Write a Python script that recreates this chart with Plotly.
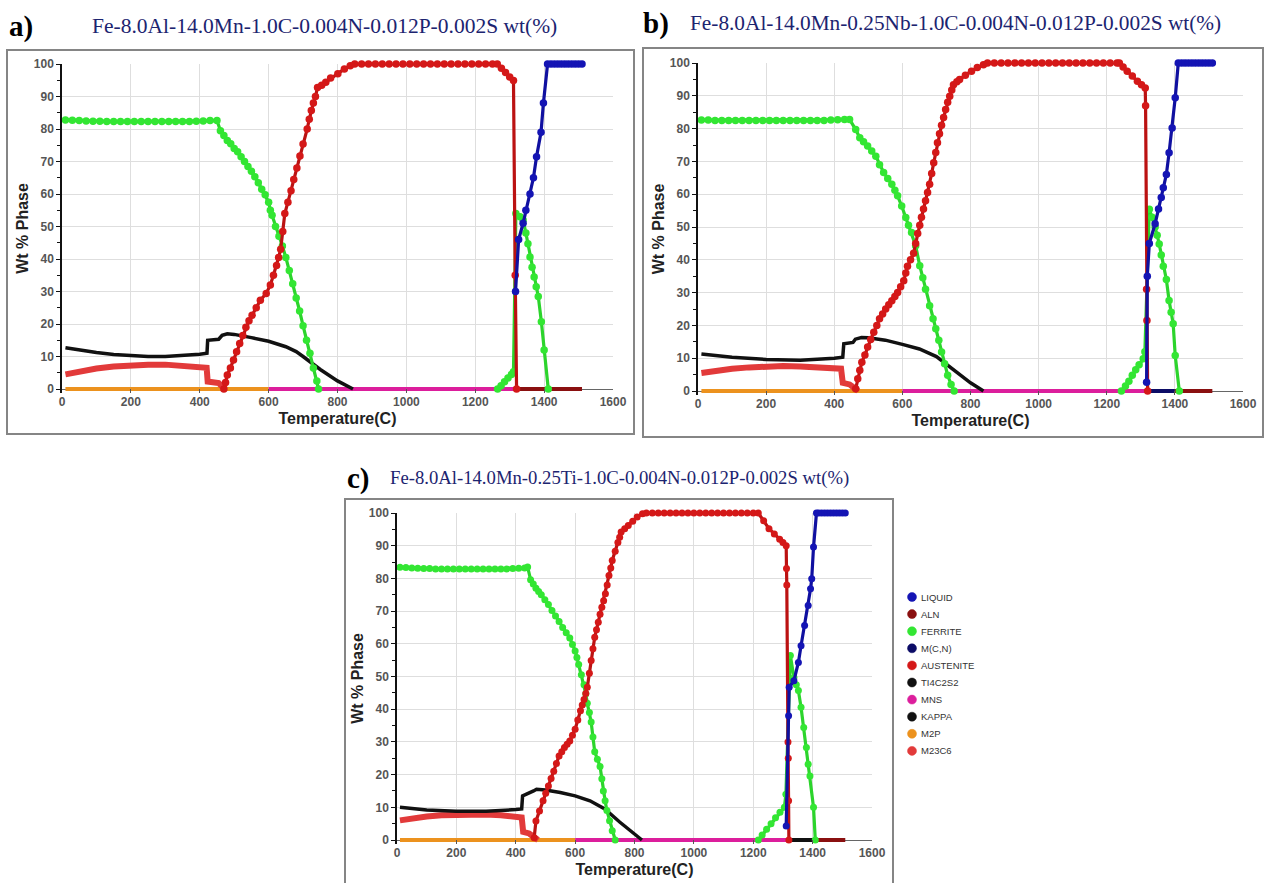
import plotly.graph_objects as go

W_PX, H_PX = 1267, 883

# ---------------- text ----------------
PANEL_LABELS = ["a)", "b)", "c)"]
PANEL_TITLES = [
    "Fe-8.0Al-14.0Mn-1.0C-0.004N-0.012P-0.002S wt(%)",
    "Fe-8.0Al-14.0Mn-0.25Nb-1.0C-0.004N-0.012P-0.002S wt(%)",
    "Fe-8.0Al-14.0Mn-0.25Ti-1.0C-0.004N-0.012P-0.002S wt(%)",
]
X_TITLE = "Temperature(C)"
Y_TITLE = "Wt % Phase"
X_TICKS = [0, 200, 400, 600, 800, 1000, 1200, 1400, 1600]
Y_TICKS = [0, 10, 20, 30, 40, 50, 60, 70, 80, 90, 100]

LEGEND_NAMES = ["LIQUID", "ALN", "FERRITE", "M(C,N)", "AUSTENITE",
                "TI4C2S2", "MNS", "KAPPA", "M2P", "M23C6"]
LEGEND_COLORS = ["#1414b4", "#8a1010", "#33e633", "#0c0c66", "#d41818",
                 "#111111", "#dc1e9c", "#111111", "#ec921e", "#e23a3a"]

# ---------------- panel a ----------------
A_LIQ_T = [1317, 1326, 1339, 1347, 1359, 1369, 1378, 1391, 1398, 1410, 1420, 1430, 1440, 1450, 1460, 1470, 1480, 1490, 1500, 1510]
A_LIQ_W = [30, 46, 51, 55, 60, 65, 71.5, 79, 88, 100, 100, 100, 100, 100, 100, 100, 100, 100, 100, 100]

A_FER1_T = [10, 30, 50, 70, 90, 110, 130, 150, 170, 190, 210, 230, 250, 270, 290, 310, 330, 350, 370, 390, 410, 430, 450,
            460, 470, 480, 490, 500, 510, 520, 530, 540, 550, 560, 570, 580, 590, 600, 605, 610, 620, 630, 640, 650,
            660, 670, 680, 690, 700, 710, 720, 730, 740, 745]
A_FER1_W = [82.8, 82.7, 82.6, 82.5, 82.4, 82.4, 82.3, 82.3, 82.3, 82.3, 82.3, 82.3, 82.3, 82.3, 82.3, 82.3, 82.3, 82.3, 82.3, 82.4, 82.5, 82.6, 82.6,
            79.5, 78, 76.5, 75.5, 74, 73, 71.5, 70, 68.5, 67, 65.3, 63.5, 61.5, 59.8, 57.5, 55, 53.5, 50, 47, 44, 40.5,
            36.5, 32.4, 28, 24, 19.5, 15, 11, 6.5, 2.5, 0]
A_FER2_T = [1265, 1275, 1285, 1295, 1305, 1311, 1318, 1330, 1339, 1347, 1353, 1359, 1365, 1371, 1377, 1383, 1392, 1400, 1412]
A_FER2_W = [0, 1, 2.2, 3.4, 4.5, 5.3, 54, 53, 52, 48, 44.7, 40.6, 37.5, 34.5, 31.5, 28.5, 20.7, 12, 0]

A_AUS_T = [470, 475, 480, 489, 498, 507, 516, 525, 534, 543, 552, 564, 576, 593, 605, 614, 623, 629, 635, 641, 647, 656,
           665, 673, 682, 691, 700, 712, 718, 724, 730, 736, 742, 754, 766, 780, 801, 820, 837, 850,
           870, 890, 910, 930, 950, 970, 990, 1010, 1030, 1050, 1070, 1090, 1110, 1130, 1150, 1170, 1190, 1210, 1230, 1250,
           1264, 1276, 1288, 1300, 1311, 1316, 1320]
A_AUS_W = [0, 2, 4.3, 6.5, 8.9, 11.5, 14, 16.5, 19, 21, 22.7, 25, 27.3, 29.4, 32, 35, 38, 40.5, 43, 48.5, 54, 57.5,
           61, 64.5, 68, 71.7, 75.4, 80, 83, 85.7, 88, 90, 92.8, 93.5, 94.4, 95.7, 97, 98.5, 99.5, 100,
           100, 100, 100, 100, 100, 100, 100, 100, 100, 100, 100, 100, 100, 100, 100, 100, 100, 100, 100, 100,
           100, 98.7, 97.4, 96, 94.9, 35, 0]

A_KAP_T = [10, 50, 100, 150, 200, 250, 300, 350, 400, 421, 423, 455, 465, 480, 500, 550, 600, 650, 680, 700, 750, 800, 845]
A_KAP_W = [12.7, 12, 11.2, 10.6, 10.2, 10, 10, 10.3, 10.7, 11, 15, 15.3, 16.5, 17, 16.8, 15.8, 14.7, 13, 11.5, 10, 6, 2.5, 0]

A_M23_T = [10, 50, 100, 150, 200, 250, 300, 350, 400, 420, 423, 440, 455, 465, 475]
A_M23_W = [4.5, 5.5, 6.3, 6.9, 7.3, 7.5, 7.5, 7.2, 6.8, 6.5, 2.3, 2, 1.8, 0.8, 0]

A_M2P_T, A_M2P_W = [10, 600], [0, 0]
A_MNS_T, A_MNS_W = [600, 1318], [0, 0]
A_ALN_T, A_ALN_W = [1318, 1510], [0, 0]

# ---------------- panel b ----------------
B_LIQ_T = [1317, 1319, 1325, 1342, 1352, 1360, 1366, 1375, 1383, 1392, 1401, 1410, 1420, 1430, 1440, 1450, 1460, 1470, 1480, 1490, 1500, 1510]
B_LIQ_W = [2.7, 35, 45, 51, 55.5, 59, 62, 66, 72.6, 80.2, 89.4, 100, 100, 100, 100, 100, 100, 100, 100, 100, 100, 100]

B_FER1_T = [10, 30, 50, 70, 90, 110, 130, 150, 170, 190, 210, 230, 250, 270, 290, 310, 330, 350, 370, 390, 410, 430, 445,
            463, 475, 486, 498, 510, 522, 533, 545, 557, 569, 578, 586, 598, 610, 618, 627, 639, 651, 660, 668, 680,
            690, 698, 707, 715, 724, 733, 743, 752]
B_FER1_W = [82.6, 82.6, 82.5, 82.5, 82.5, 82.5, 82.5, 82.5, 82.5, 82.5, 82.5, 82.5, 82.5, 82.5, 82.5, 82.5, 82.5, 82.5, 82.5, 82.6, 82.7, 82.8, 82.8,
            79.7, 77.2, 76, 74.7, 73.2, 71.6, 69, 66.6, 64.8, 63, 61.2, 59.5, 56.4, 52.9, 50.5, 48.3, 44.3, 38.2, 34.5, 31, 26,
            22, 19, 15.5, 11.9, 8.3, 4.8, 2, 0]
B_FER2_T = [1243, 1255, 1265, 1275, 1285, 1295, 1307, 1312, 1325, 1333, 1342, 1348, 1354, 1360, 1366, 1375, 1383, 1389, 1395, 1401, 1413]
B_FER2_W = [0, 1.5, 3, 4.8, 6.5, 8, 9.8, 12, 55.4, 53, 50, 47.5, 44.8, 41.5, 38, 34, 27.6, 24, 20.5, 10.8, 0]

B_AUS_T = [463, 469, 475, 481, 490, 498, 507, 516, 525, 533, 542, 551, 560, 569, 578, 586, 595, 604, 610, 615, 624, 633,
           639, 645, 651, 656, 662, 668, 674, 680, 686, 692, 698, 703, 709, 715, 721, 727, 733, 739, 745, 750, 760,
           768, 785, 803, 820, 838, 850,
           870, 890, 910, 930, 950, 970, 990, 1010, 1030, 1050, 1070, 1090, 1110, 1130, 1150, 1170, 1190, 1210, 1230,
           1237, 1248, 1260, 1275, 1290, 1302, 1313, 1314, 1317, 1318, 1320]
B_AUS_W = [0.7, 3.7, 6.3, 8.8, 11, 13.4, 15.7, 17.9, 20, 22, 23.5, 25, 26.3, 27.5, 28.8, 30, 31.8, 33.6, 36, 38, 40, 42,
           45, 48, 50.5, 53, 55.5, 58, 60.5, 63, 66.3, 69.6, 72.7, 75.7, 78.4, 81, 83.4, 85.8, 88, 89.9, 91.8, 93.4, 94.3,
           95, 96.3, 97.5, 98.6, 99.5, 100,
           100, 100, 100, 100, 100, 100, 100, 100, 100, 100, 100, 100, 100, 100, 100, 100, 100, 100, 100,
           100, 98.8, 97.5, 96, 94.4, 93.4, 92.4, 87, 31, 21.5, 0]

B_KAP_T = [10, 100, 200, 300, 400, 425, 428, 455, 462, 480, 500, 550, 600, 650, 700, 750, 800, 838]
B_KAP_W = [11.3, 10.3, 9.6, 9.4, 10, 10.3, 14.4, 14.8, 15.8, 16.3, 16.2, 15.5, 14.2, 12.8, 10.5, 6.5, 2.5, 0]

B_M23_T = [10, 50, 100, 150, 200, 250, 300, 350, 400, 420, 425, 445, 458, 470]
B_M23_W = [5.5, 6.2, 6.8, 7.2, 7.5, 7.6, 7.5, 7.3, 7, 6.8, 2.5, 2, 1, 0]

B_M2P_T, B_M2P_W = [10, 600], [0, 0]
B_MNS_T, B_MNS_W = [600, 1318], [0, 0]
B_MCN_T, B_MCN_W = [1318, 1400], [0, 0]
B_ALN_T, B_ALN_W = [1400, 1510], [0, 0]

# ---------------- panel c ----------------
C_LIQ_T = [1311, 1319, 1321, 1337, 1352, 1361, 1373, 1385, 1393, 1397, 1403, 1413, 1420, 1430, 1440, 1450, 1460, 1470, 1480, 1490, 1500, 1510]
C_LIQ_W = [4.3, 38, 46.7, 48.7, 54.3, 59.4, 65.6, 71.7, 76.8, 79.9, 89.6, 100, 100, 100, 100, 100, 100, 100, 100, 100, 100, 100]

C_FER1_T = [10, 30, 50, 70, 90, 110, 130, 150, 170, 190, 210, 230, 250, 270, 290, 310, 330, 350, 370, 390, 410, 430, 440,
            450, 459, 468, 477, 486, 498, 510, 522, 534, 546, 558, 570, 582, 591, 600, 606, 612, 621, 630, 636, 641,
            648, 654, 660, 666, 675, 684, 690, 695, 701, 707, 716, 725, 735]
C_FER1_W = [83.4, 83.3, 83.2, 83.1, 83.0, 83.0, 82.9, 82.9, 82.9, 82.9, 82.9, 82.9, 82.9, 82.9, 82.9, 82.9, 82.9, 82.9, 82.9, 83.0, 83.1, 83.2, 83.5,
            79.6, 78.3, 77, 76, 75, 73.5, 72, 70.2, 68.5, 66.8, 65, 63.4, 61.8, 59.8, 57.8, 55.8, 53.7, 50.5, 47.5, 44.7, 41.8,
            39, 36.1, 31.5, 27, 24.7, 22.5, 18.7, 15, 12, 9, 5.9, 2.8, 0]
C_FER2_T = [1217, 1230, 1245, 1260, 1275, 1290, 1305, 1310, 1325, 1337, 1345, 1352, 1361, 1370, 1379, 1385, 1391, 1403, 1409]
C_FER2_W = [0, 1.5, 3.3, 5, 6.8, 8.5, 10, 14, 56.4, 49.7, 47.5, 45.7, 40.6, 34.4, 28.3, 23.2, 19.6, 10, 0]

C_AUS_T = [462, 468, 480, 492, 501, 510, 519, 528, 537, 546, 555, 564, 573, 582, 591, 600, 609, 618, 624, 630, 636, 641,
           648, 654, 660, 666, 672, 678, 684, 690, 696, 702, 708, 714, 720, 725, 735, 744, 750, 755, 767, 779, 794,
           809, 827, 840,
           860, 880, 900, 920, 940, 960, 980, 1000, 1020, 1040, 1060, 1080, 1100, 1120, 1140, 1160, 1180, 1200,
           1217, 1235, 1253, 1271, 1289, 1300, 1311, 1312, 1313, 1317, 1318, 1319, 1320]
C_AUS_W = [0.7, 5.8, 8.9, 12, 14.3, 16.5, 18.8, 21, 23.4, 25.7, 27, 28.3, 29.3, 30.3, 32, 33.9, 36.7, 39.5, 41.3, 43, 44.8, 46.7,
           51, 54.9, 58.5, 62, 64.3, 66.6, 69, 71.2, 73.2, 75.3, 78, 80.9, 83.2, 85.5, 88.3, 91, 92.6, 94.2, 95.2, 96.2, 97.5,
           98.8, 99.8, 100,
           100, 100, 100, 100, 100, 100, 100, 100, 100, 100, 100, 100, 100, 100, 100, 100, 100, 100,
           100, 97.6, 95.2, 93.6, 92, 91, 90, 83, 78, 30, 25, 12, 0]

C_KAP_T = [10, 100, 200, 300, 400, 420, 423, 445, 460, 470, 500, 550, 600, 650, 700, 750, 800, 825]
C_KAP_W = [10, 9.2, 8.8, 8.8, 9.3, 9.5, 13.5, 14.3, 15, 15.5, 15.3, 14.5, 13.5, 12, 9.5, 5.5, 1.8, 0]

C_M23_T = [10, 50, 100, 150, 200, 250, 300, 350, 400, 420, 425, 445, 460, 475]
C_M23_W = [6, 6.7, 7.2, 7.6, 7.8, 7.9, 7.8, 7.6, 7.2, 6.9, 2.5, 2, 1, 0]

C_M2P_T, C_M2P_W = [10, 600], [0, 0]
C_MNS_T, C_MNS_W = [600, 1312], [0, 0]
C_TIC_T, C_TIC_W = [1320, 1410], [0, 0]
C_ALN_T, C_ALN_W = [1410, 1510], [0, 0]

# ---------------- layout geometry (pixels) ----------------
# (x of T=0, x of T=1600, y of W=0, y of W=100)
PANEL_PX = [(62, 613, 389, 64), (698, 1243, 391, 63), (397, 872, 840, 513)]
FRAMES_PX = [(7, 50, 634, 434), (643, 48, 1263, 437), (345, 499, 893, 890)]
Y_LOW = -1.2
LEGEND_X_PX, LEGEND_Y0_PX, LEGEND_DY_PX = 912, 597, 17.1

COL = dict(zip(LEGEND_NAMES, LEGEND_COLORS))
LINE_COL = {"LIQUID": "#1010a0", "FERRITE": "#2cd42c", "AUSTENITE": "#bb1212"}

fig = go.Figure()


def px2fx(px):
    return px / W_PX


def px2fy(py):
    return 1 - py / H_PX


def axes_of(i):
    return ("x", "y") if i == 0 else (f"x{i+1}", f"y{i+1}")


def add_markers(i, name, T, Wv, size):
    xa, ya = axes_of(i)
    fig.add_trace(go.Scatter(
        x=T, y=Wv, mode="lines+markers", name=name, showlegend=False, xaxis=xa, yaxis=ya,
        line=dict(color=LINE_COL[name], width=3.2),
        marker=dict(color=COL[name], size=size, line=dict(width=0)),
        cliponaxis=False))


def add_band(i, name, T, Wv, width):
    xa, ya = axes_of(i)
    fig.add_trace(go.Scatter(
        x=T, y=Wv, mode="lines", name=name, showlegend=False, xaxis=xa, yaxis=ya,
        line=dict(color=COL[name], width=width), cliponaxis=False))


panels = [
    dict(liq=(A_LIQ_T, A_LIQ_W), fer=[(A_FER1_T, A_FER1_W), (A_FER2_T, A_FER2_W)], aus=(A_AUS_T, A_AUS_W),
         kap=(A_KAP_T, A_KAP_W), m23=(A_M23_T, A_M23_W),
         zero=[("M2P", A_M2P_T, A_M2P_W), ("MNS", A_MNS_T, A_MNS_W), ("ALN", A_ALN_T, A_ALN_W)]),
    dict(liq=(B_LIQ_T, B_LIQ_W), fer=[(B_FER1_T, B_FER1_W), (B_FER2_T, B_FER2_W)], aus=(B_AUS_T, B_AUS_W),
         kap=(B_KAP_T, B_KAP_W), m23=(B_M23_T, B_M23_W),
         zero=[("M2P", B_M2P_T, B_M2P_W), ("MNS", B_MNS_T, B_MNS_W), ("M(C,N)", B_MCN_T, B_MCN_W), ("ALN", B_ALN_T, B_ALN_W)]),
    dict(liq=(C_LIQ_T, C_LIQ_W), fer=[(C_FER1_T, C_FER1_W), (C_FER2_T, C_FER2_W)], aus=(C_AUS_T, C_AUS_W),
         kap=(C_KAP_T, C_KAP_W), m23=(C_M23_T, C_M23_W),
         zero=[("M2P", C_M2P_T, C_M2P_W), ("MNS", C_MNS_T, C_MNS_W), ("TI4C2S2", C_TIC_T, C_TIC_W), ("ALN", C_ALN_T, C_ALN_W)]),
]
MSIZE = [7.5, 7.5, 7]

for i, p in enumerate(panels):
    for name, T, Wv in p["zero"]:
        add_band(i, name, T, Wv, 4)
    add_band(i, "M23C6", *p["m23"], 6)
    add_band(i, "KAPPA", *p["kap"], 3.5)
    for T, Wv in p["fer"]:
        add_markers(i, "FERRITE", T, Wv, MSIZE[i])
    add_markers(i, "AUSTENITE", *p["aus"], MSIZE[i])
    add_markers(i, "LIQUID", *p["liq"], MSIZE[i])

tick_font = dict(family="Liberation Sans", size=12, color="#555555", weight="bold")
title_font = dict(family="Liberation Sans", size=16, color="#222222", weight="bold")

layout = dict(width=W_PX, height=H_PX, margin=dict(l=0, r=0, t=0, b=0, autoexpand=False),
              paper_bgcolor="white", plot_bgcolor="white", showlegend=False)

shapes, annotations = [], []
for i, (x0p, x1p, y0p, y100p) in enumerate(PANEL_PX):
    sfx = "" if i == 0 else str(i + 1)
    unit = (y0p - y100p) / 100.0
    ylow_px = y0p - Y_LOW * unit
    layout["xaxis" + sfx] = dict(
        domain=[px2fx(x0p), px2fx(x1p)], range=[0, 1600], anchor="y" + sfx, automargin=False,
        tickvals=X_TICKS, ticktext=[str(v) for v in X_TICKS],
        showgrid=True, gridcolor="#dedede", gridwidth=1, zeroline=False, showline=False,
        ticks="inside", ticklen=4, tickcolor="#555555", tickfont=tick_font,
        title=dict(text=X_TITLE, font=title_font, standoff=4))
    layout["yaxis" + sfx] = dict(
        domain=[px2fy(ylow_px), px2fy(y100p)], range=[Y_LOW, 100], anchor="x" + sfx, automargin=False,
        tickvals=Y_TICKS, ticktext=[str(v) for v in Y_TICKS],
        showgrid=True, gridcolor="#dedede", gridwidth=1,
        zeroline=True, zerolinecolor="#666666", zerolinewidth=1,
        showline=True, linecolor="#111111", linewidth=1.5,
        ticks="outside", ticklen=4, tickcolor="#111111", tickfont=tick_font,
        minor=dict(dtick=5, tick0=0, ticks="outside", ticklen=3, tickcolor="#111111", showgrid=False),
        title=dict(text=Y_TITLE, font=title_font, standoff=1))

    fx0, fy0, fx1, fy1 = FRAMES_PX[i]
    shapes.append(dict(type="rect", xref="paper", yref="paper",
                       x0=px2fx(fx0), x1=px2fx(fx1), y0=px2fy(fy1), y1=px2fy(fy0),
                       line=dict(color="#858585", width=2), fillcolor="rgba(0,0,0,0)", layer="below"))

TITLE_POS = [(7, 27, 90, 26, 21.5), (641, 23, 688, 23, 21.3), (345, 478, 388, 478, 18.7)]
for i, (lx, ly, tx, ty, fs) in enumerate(TITLE_POS):
    annotations.append(dict(text=PANEL_LABELS[i], xref="paper", yref="paper", x=px2fx(lx), y=px2fy(ly),
                            xanchor="left", yanchor="middle", showarrow=False,
                            font=dict(family="Liberation Serif", size=29, color="#000000", weight="bold")))
    annotations.append(dict(text=PANEL_TITLES[i], xref="paper", yref="paper", x=px2fx(tx), y=px2fy(ty),
                            xanchor="left", yanchor="middle", showarrow=False,
                            font=dict(family="Liberation Serif", size=fs, color="#1c2470")))

# legend drawn as circles + labels
for k, (name, color) in enumerate(zip(LEGEND_NAMES, LEGEND_COLORS)):
    yc = LEGEND_Y0_PX + k * LEGEND_DY_PX
    shapes.append(dict(type="circle", xref="paper", yref="paper", xsizemode="pixel", ysizemode="pixel",
                       xanchor=px2fx(LEGEND_X_PX), yanchor=px2fy(yc), x0=-4.5, x1=4.5, y0=-4.5, y1=4.5,
                       fillcolor=color, line=dict(color=color, width=0.5)))
    annotations.append(dict(text=name, xref="paper", yref="paper", x=px2fx(LEGEND_X_PX + 7), y=px2fy(yc),
                            xanchor="left", yanchor="middle", showarrow=False,
                            font=dict(family="Liberation Sans", size=9.5, color="#333333")))

layout["shapes"] = shapes
layout["annotations"] = annotations
fig.update_layout(**layout)
fig.write_html("out.html")
